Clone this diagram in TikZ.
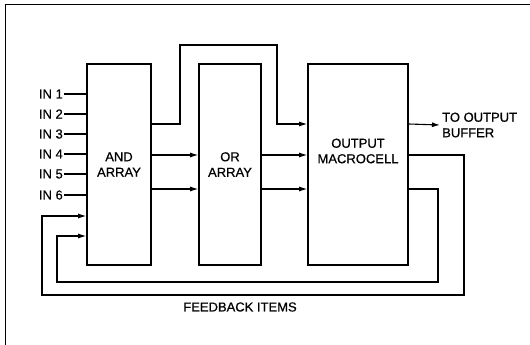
\documentclass[tikz,border=0pt]{standalone}
\usepackage{fontspec}
\setmainfont{Liberation Sans}[BoldFont=Liberation Sans,BoldFeatures={FakeBold=0.6}]
\usetikzlibrary{arrows.meta,calc}

\begin{document}
\begin{tikzpicture}[x=1pt,y=-1pt,
  block/.style={draw,line width=1.6pt,inner sep=0pt,minimum height=201pt,align=center},
  wire/.style={line width=1.1pt},
  >={Latex[length=8pt,width=5pt]},
  font=\fontsize{13}{15.5}\selectfont\bfseries]

\useasboundingbox (0,0) rectangle (530,345);
\draw[line width=1pt] (5,345) -- (5,5) -- (530,5);

\node[block,minimum width=64pt] (and) at (119,164.5) {AND\\ARRAY};
\node[block,minimum width=62pt] (or) at (230,164.5) {OR\\ARRAY};
\node[block,minimum width=100pt] (out) at (358,164.5) {};
\node[align=center] (outtxt) at (358,151) {OUTPUT\\MACROCELL};

\coordinate (r1) at (0,124);
\coordinate (r2) at (0,155);
\coordinate (r3) at (0,189);
\coordinate (f1) at (0,216);
\coordinate (f2) at (0,236);

\foreach \i/\y in {1/94,2/114,3/134,4/154,5/174,6/195}{
  \node[anchor=east,inner sep=1pt] (in\i) at (64,\y) {IN \i};
  \draw[wire] (in\i.east) -- (in\i.east -| and.west);
}

\draw[wire,->] (and.east |- r1) -| (180,45) -| (277,124) -- (out.west |- r1);
\draw[wire,->] (and.east |- r2) -- (or.west |- r2);
\draw[wire,->] (and.east |- r3) -- (or.west |- r3);
\draw[wire,->] (or.east |- r2) -- (out.west |- r2);
\draw[wire,->] (or.east |- r3) -- (out.west |- r3);

\node[anchor=west,align=left,inner sep=2pt] (buf) at (440,125) {TO OUTPUT\\BUFFER};
\draw[wire,->] (out.east |- r1) -- (buf.west);

\draw[wire,->] (out.east |- r2) -| (464,295) -| (42,216) -- (and.west |- f1);
\draw[wire,->] (out.east |- r3) -| (438,282) -| (57,236) -- (and.west |- f2);

\node (fb) at (240,307) {FEEDBACK ITEMS};

\end{tikzpicture}
\end{document}
